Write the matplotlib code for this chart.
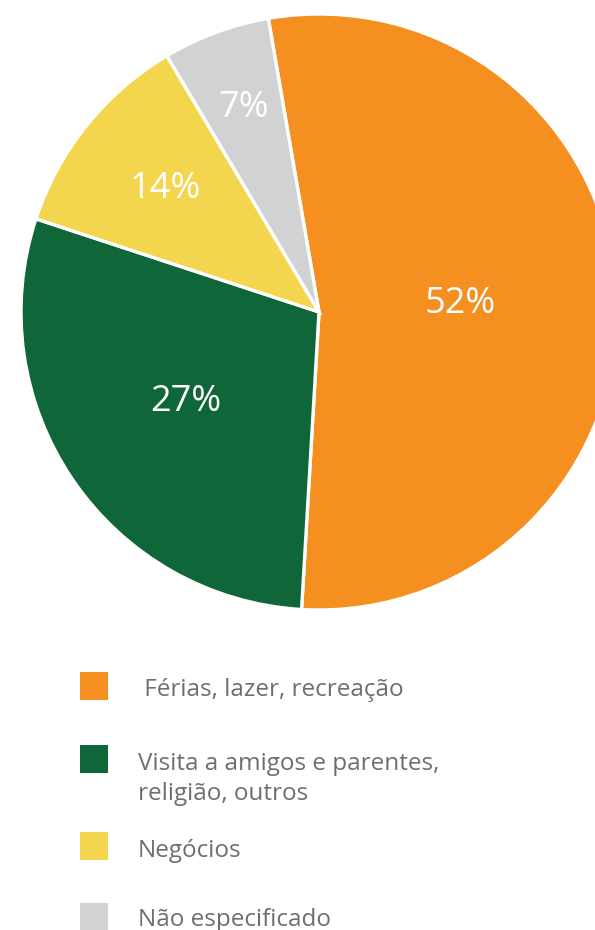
import matplotlib
matplotlib.use("Agg")
import matplotlib.pyplot as plt
from matplotlib.patches import Rectangle
import numpy as np

# Data (slice shares as drawn in the picture; printed labels as shown)
categories = [" Férias, lazer, recreação",
              "Visita a amigos e parentes,\nreligião, outros",
              "Negócios",
              "Não especificado"]
shares = [53.6, 29.1, 11.4, 5.8]
pct_labels = ["52%", "27%", "14%", "7%"]
colors = ["#F58F20", "#0F6638", "#F3D64E", "#D1D2D4"]

W, H = 595, 930
fig = plt.figure(figsize=(W / 100, H / 100), dpi=100)
plt.rcParams['font.family'] = ['Open Sans', 'DejaVu Sans']

# pie axes: centre (319,312) px, radius 298 px
cx, cy, r = 319, 312, 298
ax = fig.add_axes([(cx - r) / W, (H - cy - r) / H, 2 * r / W, 2 * r / H])
wedges, _ = ax.pie(shares, colors=colors, startangle=99.8, counterclock=False,
                   wedgeprops=dict(edgecolor="white", linewidth=2.4),
                   radius=1.0)
ax.set_xlim(-1, 1)
ax.set_ylim(-1, 1)
ax.set_aspect("equal")
ax.axis("off")

label_r = [0.475, 0.54, 0.66, 0.73]
for w, lab, lr in zip(wedges, pct_labels, label_r):
    mid = np.deg2rad((w.theta1 + w.theta2) / 2)
    ax.text(lr * np.cos(mid), lr * np.sin(mid), lab, color="white",
            fontsize=26, ha="center", va="center")

# legend
box_y = [686, 759, 846, 917]
text_y = [690, 779, 851, 920]
for cat, col, by, ty in zip(categories, colors, box_y, text_y):
    fig.patches.append(Rectangle((80 / W, (H - by - 14) / H), 28 / W, 28 / H,
                                 transform=fig.transFigure, facecolor=col,
                                 edgecolor="none"))
    fig.text(138 / W, (H - ty) / H, cat, color="#6D6E70", fontsize=17.5,
             ha="left", va="center", linespacing=1.38)

fig.savefig("out.png", dpi=100)
